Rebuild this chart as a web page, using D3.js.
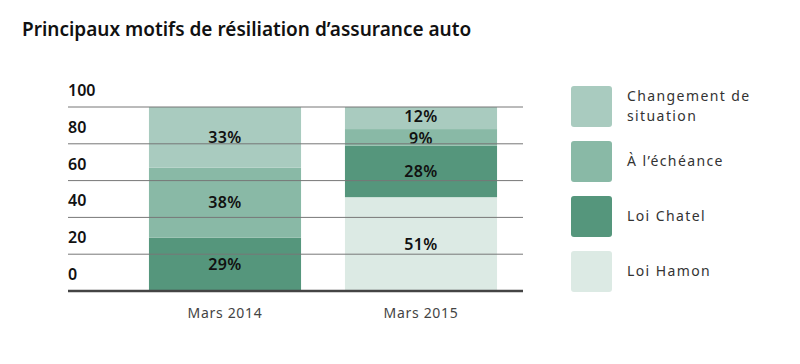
<!DOCTYPE html>
<html><head><meta charset="utf-8">
<script src="https://cdn.jsdelivr.net/npm/d3@7"></script>
<style>
body{margin:0;background:#fff;}
text{font-family:"Noto Sans",sans-serif;}
</style></head>
<body><svg id="c" width="800" height="364"></svg>
<script>
const categories = ["Mars 2014", "Mars 2015"];
const seriesNames = ["Loi Hamon", "Loi Chatel", "À l’échéance", "Changement de situation"];
const loiHamon = [0, 51];
const loiChatel = [29, 28];
const aEcheance = [38, 9];
const changement = [33, 12];
const yTicks = [0, 20, 40, 60, 80, 100];
const colors = {"Loi Hamon":"#dceae4","Loi Chatel":"#55967c","À l’échéance":"#89b9a6","Changement de situation":"#a9cbbf"};
const legendOrder = [["Changement de","situation"],["À l’échéance"],["Loi Chatel"],["Loi Hamon"]];
const legendKeys = ["Changement de situation","À l’échéance","Loi Chatel","Loi Hamon"];

const svg = d3.select("#c");
svg.append("text").attr("x",22).attr("y",36).attr("font-size",19).attr("font-weight",600)
  .attr("fill","#111").text("Principaux motifs de résiliation d’assurance auto");

const x = d3.scaleBand().domain(categories).range([127,519]).paddingInner(0.224).paddingOuter(0.112);
const y = d3.scaleLinear().domain([0,100]).range([291,107]);

const table = categories.map((c,i)=>({cat:c,"Loi Hamon":loiHamon[i],"Loi Chatel":loiChatel[i],"À l’échéance":aEcheance[i],"Changement de situation":changement[i]}));
const stack = d3.stack().keys(seriesNames)(table);

const g = svg.append("g");
stack.forEach(s=>{
  g.selectAll(null).data(s).enter().append("rect")
    .attr("x",d=>x(d.data.cat)).attr("width",x.bandwidth())
    .attr("y",d=>y(d[1])).attr("height",d=>y(d[0])-y(d[1]))
    .attr("fill",colors[s.key]);
});

// gridlines
svg.append("g").selectAll("line").data(yTicks.filter(t=>t>0)).enter().append("line")
  .attr("x1",68).attr("x2",523).attr("y1",d=>y(d)).attr("y2",d=>y(d))
  .attr("stroke","#777").attr("stroke-width",1);
svg.append("line").attr("x1",68).attr("x2",523).attr("y1",y(0)).attr("y2",y(0))
  .attr("stroke","#444").attr("stroke-width",2.5);

// y labels (above lines)
svg.append("g").selectAll("text").data(yTicks).enter().append("text")
  .attr("x",68).attr("y",d=>y(d)-11).attr("font-size",16).attr("font-weight",600)
  .attr("fill","#111").text(d=>d);

// value labels with simple collision nudging per bar
const labels = [];
stack.forEach(s=>{
  s.forEach(d=>{
    if (d[1]-d[0]>0) labels.push({cat:d.data.cat, v:d[1]-d[0], cy:(y(d[0])+y(d[1]))/2});
  });
});
const minGap = 22;
categories.forEach(c=>{
  const ls = labels.filter(l=>l.cat===c).sort((a,b)=>a.cy-b.cy);
  for (let i=1;i<ls.length;i++){
    const gap = ls[i].cy - ls[i-1].cy;
    if (gap < minGap){
      const push = (minGap-gap)/2;
      ls[i-1].cy -= push; ls[i].cy += push;
    }
  }
});
g.selectAll("text.val").data(labels).enter().append("text").attr("class","val")
  .attr("x",d=>x(d.cat)+x.bandwidth()/2)
  .attr("y",d=>d.cy).attr("dy","0.36em")
  .attr("text-anchor","middle").attr("font-size",16).attr("font-weight",600)
  .attr("letter-spacing",0.4)
  .attr("fill","#111").text(d=>d.v+"%");

// x labels
svg.append("g").selectAll("text").data(categories).enter().append("text")
  .attr("x",d=>x(d)+x.bandwidth()/2).attr("y",318).attr("text-anchor","middle")
  .attr("font-size",14).attr("fill","#444").attr("letter-spacing",0.7).text(d=>d);

// legend
const lg = svg.append("g");
legendKeys.forEach((k,i)=>{
  const top = 86 + i*55;
  lg.append("rect").attr("x",571).attr("y",top).attr("width",41).attr("height",41)
    .attr("rx",3).attr("fill",colors[k]);
  const lines = legendOrder[i];
  const t = lg.append("text").attr("font-size",14).attr("fill","#333").attr("letter-spacing",1.4);
  const c = top+20.5;
  lines.forEach((ln,j)=>{
    const cy = lines.length===1 ? c : c - 10 + j*20;
    t.append("tspan").attr("x",627).attr("y",cy).attr("dy","0.35em").text(ln);
  });
});
</script></body></html>
